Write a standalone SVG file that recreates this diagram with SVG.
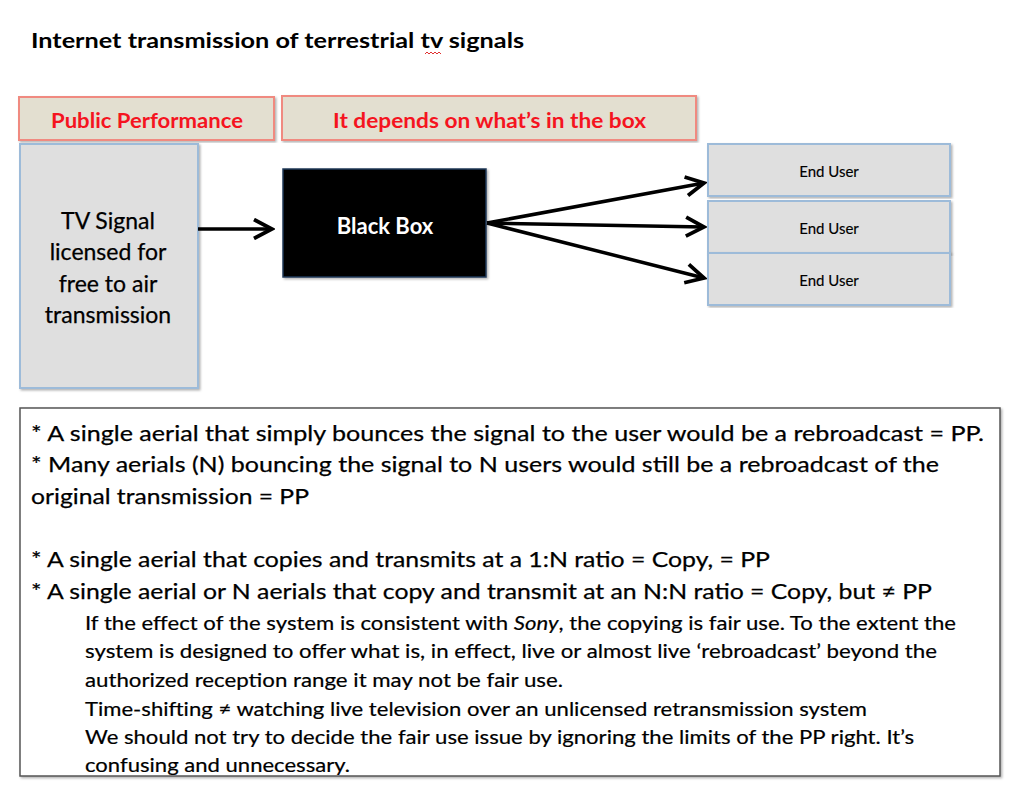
<svg xmlns="http://www.w3.org/2000/svg" width="1024" height="790" viewBox="0 0 1024 790">
<style>
text{font-family:Lato,"Open Sans","Liberation Sans",sans-serif;fill:#000}
.title{font-size:21px;font-weight:bold}
.hdr rect{fill:#e3dfd0;stroke:#f08a80;stroke-width:2}
.hdr text{font-size:20px;font-weight:bold;fill:#f5141f}
.gray{fill:#dfdfdf;stroke:#9dbbd9;stroke-width:2}
.big{font-size:23px;text-anchor:middle;stroke:#000;stroke-width:0.25}
.eu{font-size:15px;text-anchor:middle;stroke:#000;stroke-width:0.15}
.b1{font-size:22px;stroke:#000;stroke-width:0.25}
.b2{font-size:19.5px;stroke:#000;stroke-width:0.2}
.conn line{stroke:#000;stroke-width:3.5}
</style>
<defs>
<marker id="arr" viewBox="0 0 12 12" refX="10.5" refY="6" markerWidth="6.5" markerHeight="6.5" markerUnits="strokeWidth" orient="auto">
<path d="M1,1 L10.5,6 L1,11" fill="none" stroke="#000" stroke-width="2" stroke-linejoin="miter"/>
</marker>
<filter id="sh" x="-5%" y="-5%" width="110%" height="110%">
<feDropShadow dx="1.5" dy="1.5" stdDeviation="1" flood-color="#000" flood-opacity="0.3"/>
</filter>
</defs>
<rect width="1024" height="790" fill="#fff"/>
<g id="title">
<text class="title" x="31" y="48" textLength="493" lengthAdjust="spacingAndGlyphs">Internet transmission of terrestrial tv signals</text>
<path d="M425,54 l2,-2 l2,2 l2,-2 l2,2 l2,-2 l2,2 l2,-2 l2,2" fill="none" stroke="#e03030" stroke-width="1"/>
</g>
<g id="public-performance" class="hdr">
<rect x="19" y="97" width="255" height="43" filter="url(#sh)"/>
<text x="51" y="128" textLength="192" lengthAdjust="spacingAndGlyphs">Public Performance</text>
</g>
<g id="depends" class="hdr">
<rect x="282" y="96" width="414" height="44" filter="url(#sh)"/>
<text x="333" y="128" textLength="313" lengthAdjust="spacingAndGlyphs">It depends on what’s in the box</text>
</g>
<g id="tv-signal">
<rect class="gray" x="20" y="144" width="178" height="244" filter="url(#sh)"/>
<text class="big" x="108" y="229">TV Signal</text>
<text class="big" x="108" y="260">licensed for</text>
<text class="big" x="108" y="292">free to air</text>
<text class="big" x="108" y="323">transmission</text>
</g>
<g id="black-box">
<rect x="283" y="169" width="203" height="108" fill="#000" stroke="#1f3a5a" stroke-width="1.5" filter="url(#sh)"/>
<text x="385" y="234" font-size="22" font-weight="bold" text-anchor="middle" style="fill:#fff">Black Box</text>
</g>
<g id="end-user-1">
<rect class="gray" x="708" y="144" width="242" height="52" filter="url(#sh)"/>
<text class="eu" x="829" y="177">End User</text>
</g>
<g id="end-user-2">
<rect class="gray" x="708" y="201" width="242" height="52" filter="url(#sh)"/>
<text class="eu" x="829" y="234">End User</text>
</g>
<g id="end-user-3">
<rect class="gray" x="708" y="253" width="242" height="52" filter="url(#sh)"/>
<text class="eu" x="829" y="286">End User</text>
</g>
<g id="connectors" class="conn">
<line x1="198" y1="229" x2="272" y2="229" marker-end="url(#arr)"/>
<line x1="487" y1="223" x2="704" y2="183" marker-end="url(#arr)"/>
<line x1="487" y1="223" x2="704" y2="227" marker-end="url(#arr)"/>
<line x1="487" y1="223" x2="704" y2="278" marker-end="url(#arr)"/>
</g>
<g id="notes">
<rect x="20" y="408" width="980" height="368" fill="#fff" stroke="#555" stroke-width="1.5" filter="url(#sh)"/>
<text class="b1" x="31" y="441" textLength="953" lengthAdjust="spacingAndGlyphs">* A single aerial that simply bounces the signal to the user would be a rebroadcast = PP.</text>
<text class="b1" x="31" y="472" textLength="908" lengthAdjust="spacingAndGlyphs">* Many aerials (N) bouncing the signal to N users would still be a rebroadcast of the</text>
<text class="b1" x="31" y="504" textLength="278" lengthAdjust="spacingAndGlyphs">original transmission = PP</text>
<text class="b1" x="31" y="567" textLength="739" lengthAdjust="spacingAndGlyphs">* A single aerial that copies and transmits at a 1:N ratio = Copy, = PP</text>
<text class="b1" x="31" y="599" textLength="901" lengthAdjust="spacingAndGlyphs">* A single aerial or N aerials that copy and transmit at an N:N ratio = Copy, but ≠ PP</text>
<text class="b2" x="85" y="630" textLength="871" lengthAdjust="spacingAndGlyphs">If the effect of the system is consistent with <tspan font-style="italic">Sony</tspan>, the copying is fair use. To the extent the</text>
<text class="b2" x="85" y="658" textLength="852" lengthAdjust="spacingAndGlyphs">system is designed to offer what is, in effect, live or almost live ‘rebroadcast’ beyond the</text>
<text class="b2" x="85" y="687" textLength="478" lengthAdjust="spacingAndGlyphs">authorized reception range it may not be fair use.</text>
<text class="b2" x="85" y="716" textLength="782" lengthAdjust="spacingAndGlyphs">Time-shifting ≠ watching live television over an unlicensed retransmission system</text>
<text class="b2" x="85" y="744" textLength="829" lengthAdjust="spacingAndGlyphs">We should not try to decide the fair use issue by ignoring the limits of the PP right. It’s</text>
<text class="b2" x="85" y="772" textLength="265" lengthAdjust="spacingAndGlyphs">confusing and unnecessary.</text>
</g>
</svg>
